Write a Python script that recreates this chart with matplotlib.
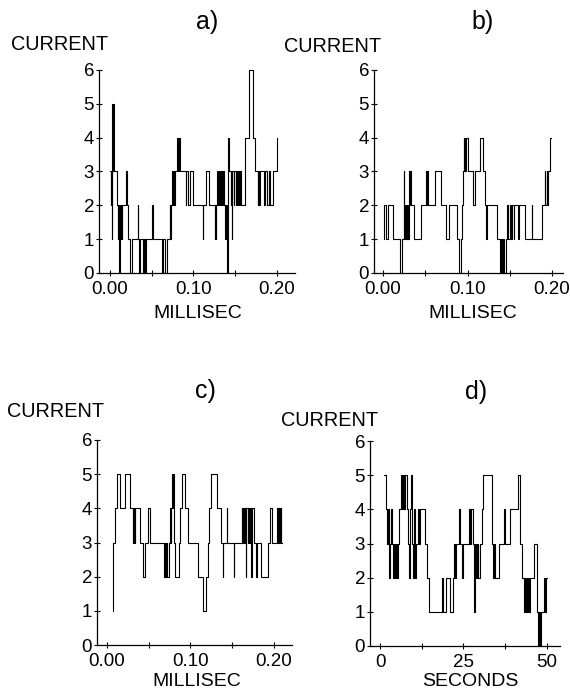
import matplotlib.pyplot as plt
from matplotlib.ticker import MultipleLocator

plt.rcParams['font.family'] = ['Liberation Sans', 'DejaVu Sans']

# change points of each current trace: (time, level after the change)
a_t = [0.0004, 0.0010, 0.0014, 0.0020, 0.0024, 0.0028, 0.0032, 0.0036, 0.0044, 0.0080,
       0.0092, 0.0100, 0.0112, 0.0124, 0.0132, 0.0136, 0.0144, 0.0148, 0.0188, 0.0200,
       0.0220, 0.0240, 0.0268, 0.0332, 0.0340, 0.0348, 0.0364, 0.0400, 0.0412, 0.0420,
       0.0432, 0.0508, 0.0516, 0.0620, 0.0630, 0.0660, 0.0680, 0.0720, 0.0724, 0.0732,
       0.0748, 0.0752, 0.0760, 0.0768, 0.0776, 0.0808, 0.0812, 0.0816, 0.0824, 0.0828,
       0.0840, 0.0908, 0.0916, 0.0940, 0.0956, 0.0996, 0.1111, 0.1115, 0.1152, 0.1180,
       0.1254, 0.1262, 0.1270, 0.1275, 0.1287, 0.1295, 0.1300, 0.1320, 0.1328, 0.1344,
       0.1352, 0.1365, 0.1377, 0.1385, 0.1402, 0.1410, 0.1418, 0.1422, 0.1450, 0.1455,
       0.1459, 0.1465, 0.1484, 0.1490, 0.1508, 0.1513, 0.1525, 0.1530, 0.1550, 0.1555,
       0.1574, 0.1623, 0.1664, 0.1718, 0.1738, 0.1771, 0.1776, 0.1787, 0.1795, 0.1849,
       0.1855, 0.1877, 0.1905, 0.1915, 0.1950, 0.2000]
a_v = [3, 2, 3, 1, 3, 5, 3, 5, 3, 2,
       1, 2, 0, 2, 1, 2, 1, 2, 3, 2,
       1, 0, 1, 2, 1, 0, 1, 0, 1, 0,
       1, 2, 1, 0, 1, 0, 1, 2, 1, 2,
       3, 2, 3, 2, 3, 4, 3, 4, 3, 4,
       3, 2, 3, 2, 3, 2, 1, 2, 3, 2,
       1, 2, 1, 2, 3, 2, 3, 2, 3, 2,
       3, 2, 1, 2, 0, 2, 4, 3, 2, 3,
       1, 3, 2, 3, 2, 3, 2, 3, 2, 3,
       2, 4, 6, 4, 3, 2, 3, 2, 3, 2,
       3, 2, 3, 2, 3, 4]
a_end = 0.2005

b_t = [0.0010, 0.0015, 0.0035, 0.0060, 0.0120, 0.0195, 0.0228, 0.0244, 0.0252, 0.0260,
       0.0265, 0.0270, 0.0275, 0.0280, 0.0285, 0.0290, 0.0300, 0.0310, 0.0316, 0.0320,
       0.0330, 0.0370, 0.0450, 0.0510, 0.0516, 0.0520, 0.0530, 0.0610, 0.0690, 0.0740,
       0.0780, 0.0880, 0.0895, 0.0925, 0.0935, 0.0945, 0.0955, 0.0962, 0.0968, 0.0975,
       0.0980, 0.1010, 0.1060, 0.1090, 0.1150, 0.1180, 0.1205, 0.1215, 0.1230, 0.1350,
       0.1380, 0.1395, 0.1405, 0.1420, 0.1430, 0.1450, 0.1465, 0.1475, 0.1500, 0.1520,
       0.1530, 0.1545, 0.1555, 0.1600, 0.1605, 0.1680, 0.1760, 0.1765, 0.1880, 0.1915,
       0.1920, 0.1935, 0.1940, 0.1950, 0.1980]
b_v = [1, 2, 1, 2, 1, 0, 1, 3, 1, 2,
       1, 2, 1, 2, 1, 2, 1, 3, 2, 3,
       2, 1, 2, 3, 2, 3, 2, 3, 2, 1,
       2, 1, 0, 1, 2, 3, 4, 3, 4, 3,
       4, 3, 2, 3, 4, 3, 2, 1, 2, 1,
       0, 1, 0, 1, 0, 1, 2, 1, 2, 1,
       2, 1, 2, 1, 2, 1, 2, 1, 2, 3,
       2, 3, 2, 3, 4]
b_end = 0.1990

c_t = [0.0072, 0.0075, 0.0100, 0.0120, 0.0155, 0.0210, 0.0275, 0.0310, 0.0315, 0.0320,
       0.0325, 0.0330, 0.0335, 0.0400, 0.0435, 0.0460, 0.0495, 0.0520, 0.0680, 0.0690,
       0.0700, 0.0710, 0.0720, 0.0740, 0.0755, 0.0765, 0.0770, 0.0780, 0.0790, 0.0795,
       0.0800, 0.0810, 0.0860, 0.0880, 0.0900, 0.0935, 0.0965, 0.1085, 0.1150, 0.1180,
       0.1210, 0.1225, 0.1240, 0.1320, 0.1360, 0.1385, 0.1390, 0.1435, 0.1440, 0.1520,
       0.1525, 0.1615, 0.1620, 0.1630, 0.1640, 0.1650, 0.1665, 0.1670, 0.1685, 0.1690,
       0.1700, 0.1710, 0.1730, 0.1735, 0.1760, 0.1790, 0.1797, 0.1850, 0.1930, 0.1950,
       0.1975, 0.2040, 0.2045, 0.2050, 0.2060, 0.2065, 0.2075, 0.2080, 0.2090]
c_v = [1, 3, 4, 5, 4, 5, 4, 3, 4, 3,
       4, 3, 4, 3, 2, 3, 4, 3, 2, 3,
       2, 3, 2, 3, 4, 3, 4, 5, 4, 5,
       3, 2, 3, 4, 5, 4, 3, 2, 1, 2,
       3, 4, 5, 4, 3, 2, 3, 4, 3, 2,
       3, 4, 3, 4, 3, 4, 2, 4, 3, 4,
       3, 4, 2, 4, 3, 2, 3, 2, 3, 4,
       3, 4, 3, 4, 3, 4, 3, 4, 3]
c_end = 0.2095

d_t = [1.3, 1.7, 2.0, 2.3, 2.6, 2.8, 3.1, 3.4, 3.6, 4.0,
       4.3, 4.6, 4.9, 5.1, 5.5, 5.8, 6.2, 6.6, 6.8, 7.2,
       7.4, 8.0, 8.3, 8.6, 8.9, 9.2, 9.5, 9.7, 10.0, 10.3,
       10.6, 10.9, 11.3, 11.6, 11.9, 13.6, 14.2, 14.6, 18.7, 19.0,
       19.8, 21.0, 21.8, 22.2, 22.5, 22.7, 23.8, 24.1, 24.6, 24.9,
       26.6, 27.0, 27.3, 27.9, 28.1, 28.3, 28.6, 28.8, 29.0, 29.2,
       29.4, 30.0, 30.4, 30.7, 33.4, 33.7, 34.0, 34.3, 35.7, 37.0,
       37.3, 38.8, 41.2, 42.0, 42.6, 43.0, 43.3, 43.5, 43.8, 44.0,
       44.3, 44.5, 45.0, 46.2, 47.0, 47.4, 47.7, 47.9, 48.3, 49.2,
       49.5, 49.7]
d_v = [5, 4, 3, 4, 3, 2, 3, 4, 3, 2,
       3, 2, 3, 2, 3, 4, 5, 4, 5, 4,
       5, 4, 3, 2, 4, 5, 4, 3, 2, 4,
       2, 3, 4, 3, 4, 3, 2, 1, 2, 1,
       2, 1, 2, 3, 2, 3, 4, 3, 2, 3,
       4, 3, 4, 3, 1, 3, 2, 3, 2, 3,
       2, 3, 4, 5, 3, 2, 3, 2, 3, 4,
       3, 4, 5, 3, 2, 1, 2, 1, 2, 1,
       2, 1, 2, 3, 1, 0, 1, 0, 1, 2,
       1, 2]
d_end = 50.0

panels = [
    # (times, values, end, label, xlabel, axes rect px, xlim, major, minor, fmt)
    (a_t, a_v, a_end, 'a)', 'MILLISEC', (99, 70, 295, 273), (-0.0132, 0.2216), 0.1, 0.05, '{:.2f}'),
    (b_t, b_v, b_end, 'b)', 'MILLISEC', (374, 70, 563, 273), (-0.0107, 0.2130), 0.1, 0.05, '{:.2f}'),
    (c_t, c_v, c_end, 'c)', 'MILLISEC', (97, 440, 292, 645), (-0.0120, 0.2216), 0.1, 0.05, '{:.2f}'),
    (d_t, d_v, d_end, 'd)', 'SECONDS', (370, 441, 560, 646), (-3.0, 53.9), 25, 12.5, '{:.0f}'),
]
text_pos = [
    # CURRENT (x, y), label (x, y), xlabel (x, y) in pixels
    ((60, 45), (207, 22), (198, 313)),
    ((333, 46), (483, 22), (473, 313)),
    ((56, 411), (205, 391), (197, 682)),
    ((330, 420), (476, 392), (470, 682)),
]

W, H = 570, 696
fig = plt.figure(figsize=(W / 100, H / 100), dpi=100)

for (t, v, t_end, lab, xlab, (x0, y0, x1, y1), xlim, major, minor, fmt), (cur, lp, xp) in zip(panels, text_pos):
    ax = fig.add_axes([x0 / W, 1 - y1 / H, (x1 - x0) / W, (y1 - y0) / H])
    ax.step(t + [t_end], v + [v[-1]], where='post', color='black', lw=0.8, clip_on=False)
    ax.set_xlim(*xlim)
    ax.set_ylim(0, 6)
    for s in ['top', 'right']:
        ax.spines[s].set_visible(False)
    for s in ['left', 'bottom']:
        ax.spines[s].set_linewidth(0.9)
    ax.spines['left'].set_bounds(0, 6)
    ax.set_yticks(range(7))
    ax.xaxis.set_major_locator(MultipleLocator(major))
    ax.xaxis.set_minor_locator(MultipleLocator(minor))
    ticks = [0, major, 2 * major]
    ax.set_xticks(ticks)
    ax.set_xticklabels([fmt.format(x) for x in ticks])
    ax.tick_params(axis='both', which='both', direction='inout', length=4, width=0.8,
                   labelsize=13.5, pad=1.5)
    ax.tick_params(axis='x', which='both', pad=4)
    fig.text(cur[0] / W, 1 - cur[1] / H, 'CURRENT', fontsize=14.3, ha='center', va='center')
    fig.text(lp[0] / W, 1 - lp[1] / H, lab, fontsize=18, ha='center', va='center')
    fig.text(xp[0] / W, 1 - xp[1] / H, xlab, fontsize=14, ha='center', va='center')

fig.savefig('out.png', dpi=100, facecolor='white')
